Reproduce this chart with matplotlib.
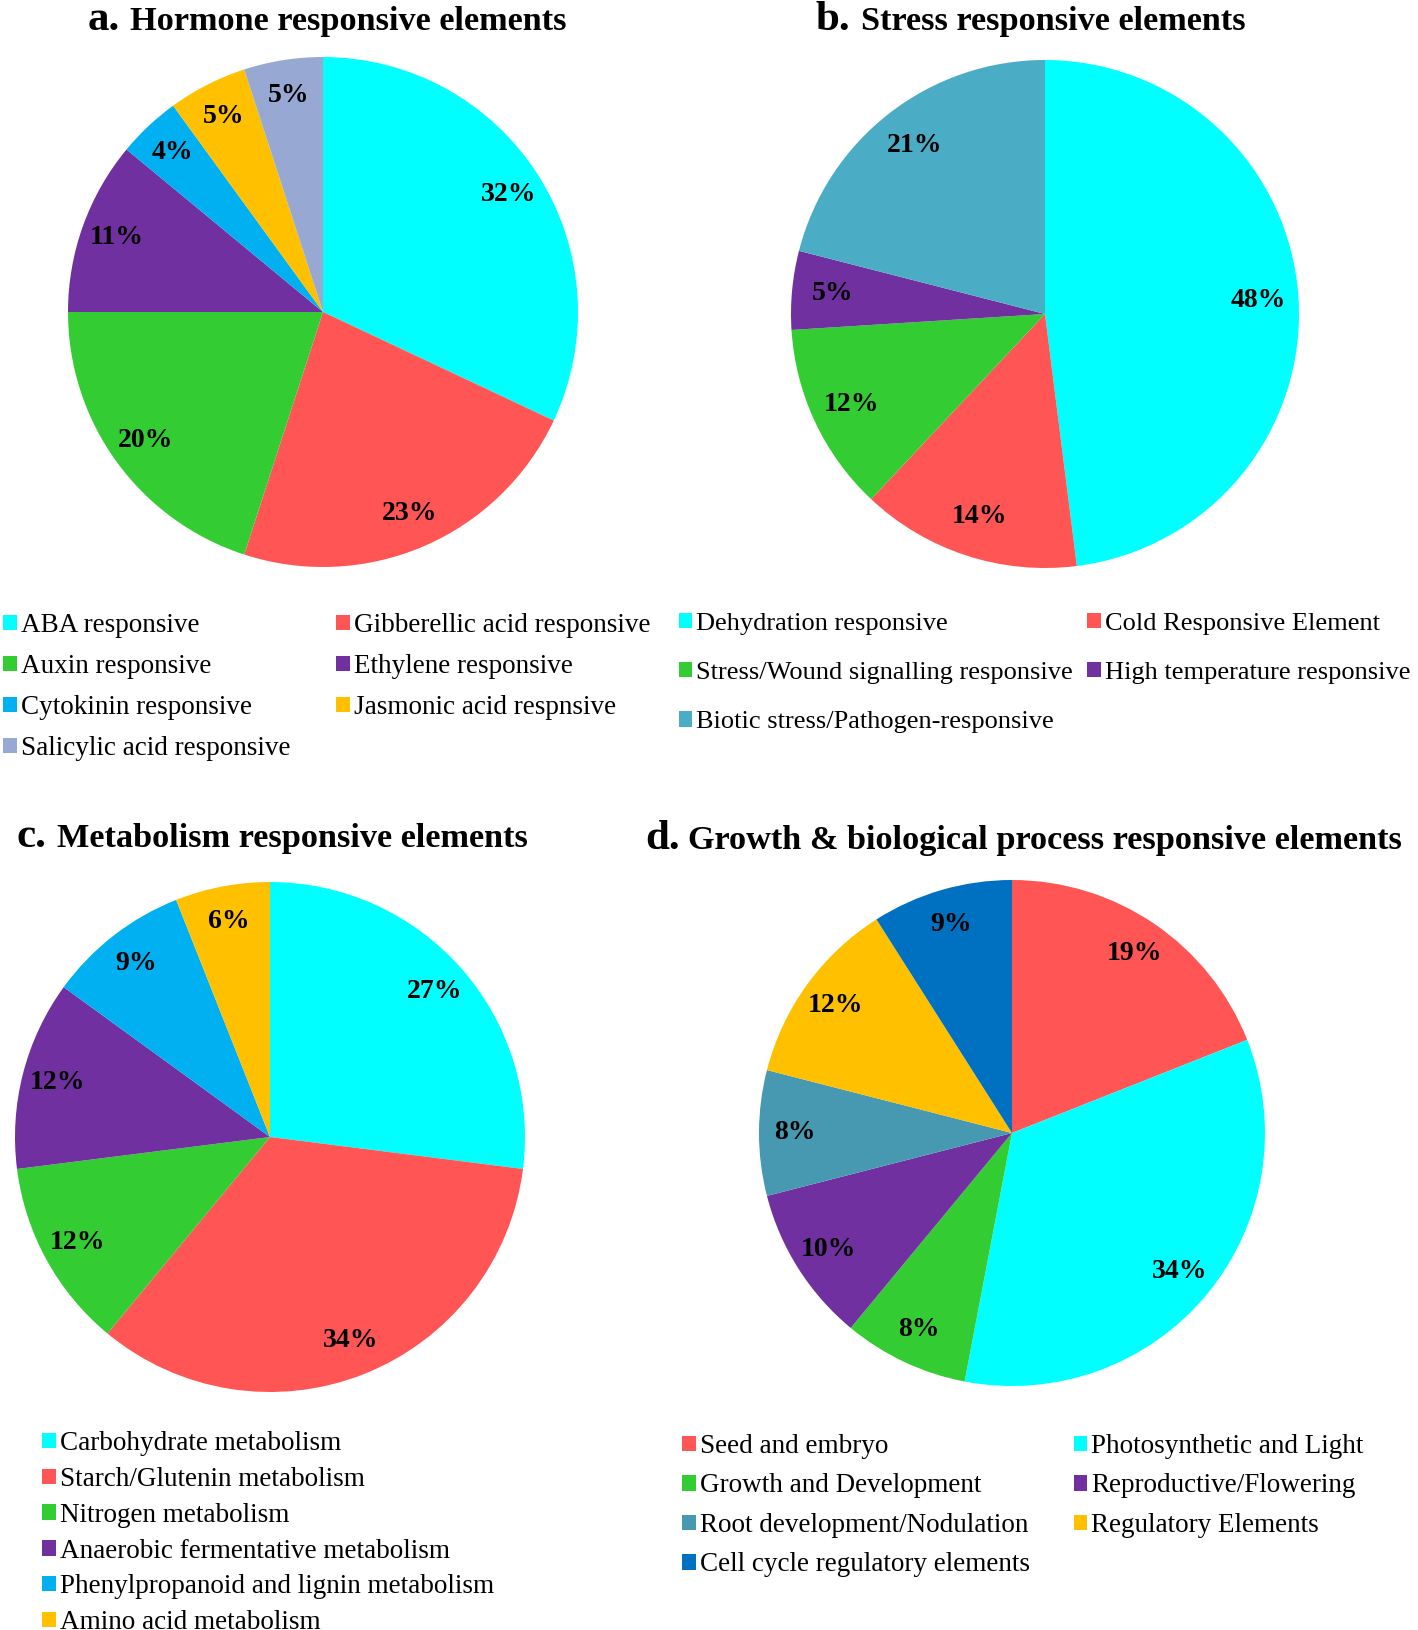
import matplotlib
matplotlib.use("Agg")
import matplotlib.pyplot as plt

W, H = 1418, 1630
plt.rcParams['font.family'] = ['Liberation Serif', 'DejaVu Serif']

CYAN = '#00FFFF'
RED = '#FF5555'
GREEN = '#33CC33'
PURPLE = '#7030A0'
BLUE = '#00B0F0'
GOLD = '#FFC000'
LAVENDER = '#97A9D3'
TEAL = '#4BACC6'
STEEL = '#4699B0'
NAVY = '#0070C0'

# a. hormone
hormone_labels = ["ABA responsive", "Gibberellic acid responsive", "Auxin responsive",
                  "Ethylene responsive", "Cytokinin responsive", "Jasmonic acid respnsive",
                  "Salicylic acid responsive"]
hormone_values = [32, 23, 20, 11, 4, 5, 5]
hormone_colors = [CYAN, RED, GREEN, PURPLE, BLUE, GOLD, LAVENDER]

# b. stress
stress_labels = ["Dehydration responsive", "Cold Responsive Element",
                 "Stress/Wound signalling responsive", "High temperature responsive",
                 "Biotic stress/Pathogen-responsive"]
stress_values = [48, 14, 12, 5, 21]
stress_colors = [CYAN, RED, GREEN, PURPLE, TEAL]

# c. metabolism
metab_labels = ["Carbohydrate metabolism", "Starch/Glutenin metabolism", "Nitrogen metabolism",
                "Anaerobic fermentative metabolism", "Phenylpropanoid and lignin metabolism",
                "Amino acid metabolism"]
metab_values = [27, 34, 12, 12, 9, 6]
metab_colors = [CYAN, RED, GREEN, PURPLE, BLUE, GOLD]

# d. growth
growth_labels = ["Seed and embryo", "Photosynthetic and Light", "Growth and Development",
                 "Reproductive/Flowering", "Root development/Nodulation", "Regulatory Elements",
                 "Cell cycle regulatory elements"]
growth_values = [19, 34, 8, 10, 8, 12, 9]
growth_colors = [RED, CYAN, GREEN, PURPLE, STEEL, GOLD, NAVY]

fig = plt.figure(figsize=(W / 100, H / 100), dpi=100)


def pie_axes(cx, cy, r):
    return fig.add_axes([(cx - r) / W, (H - cy - r) / H, 2 * r / W, 2 * r / H])


def draw_pie(ax, values, colors, pctdist=0.86):
    wedges, texts, autotexts = ax.pie(values, colors=colors, startangle=90, counterclock=False,
                                      autopct=lambda p: '%.0f%%' % p, pctdistance=pctdist,
                                      wedgeprops=dict(linewidth=0),
                                      textprops=dict(fontsize=20, fontweight='bold', color='black'))
    ax.set_xlim(-1, 1)
    ax.set_ylim(-1, 1)
    ax.set_aspect('equal')
    return wedges


def title(xp, xm, yb, prefix, main):
    fig.text(xp / W, 1 - yb / H, prefix, fontsize=31, fontweight='bold', va='baseline')
    fig.text(xm / W, 1 - yb / H, main, fontsize=24.7, fontweight='bold', va='baseline')


def legend(wedges, labels, order, ncol, x, ytop, lspace, cspace, size=19.5):
    fig.legend([wedges[i] for i in order], [labels[i] for i in order], ncol=ncol,
               loc='upper left', bbox_to_anchor=(x / W, 1 - ytop / H), frameon=False,
               fontsize=size, handlelength=0.5, handleheight=0.5, handletextpad=0.15,
               labelspacing=lspace, columnspacing=cspace, borderpad=0, borderaxespad=0)


ax = pie_axes(323, 312, 255)
w = draw_pie(ax, hormone_values, hormone_colors)
title(88, 130, 30, "a.", "Hormone responsive elements")
legend(w, hormone_labels, [0, 2, 4, 6, 1, 3, 5], 2, 3, 613, 0.59, 1.7)

ax = pie_axes(1045, 314, 254)
w = draw_pie(ax, stress_values, stress_colors, 0.84)
title(816, 861, 30, "b.", "Stress responsive elements")
legend(w, stress_labels, [0, 2, 4, 1, 3], 2, 679, 613, 1.03, 0.55, 19)

ax = pie_axes(270, 1137, 255)
w = draw_pie(ax, metab_values, metab_colors)
title(16, 57, 847, "c.", "Metabolism responsive elements")
legend(w, metab_labels, list(range(6)), 1, 42, 1431, 0.40, 1.0)

ax = pie_axes(1012, 1133, 253)
w = draw_pie(ax, growth_values, growth_colors)
title(645, 688, 849, "d.", "Growth & biological process responsive elements")
legend(w, growth_labels, [0, 2, 4, 6, 1, 3, 5], 2, 682, 1434, 0.535, 1.63)

fig.savefig("out.png", dpi=100)
